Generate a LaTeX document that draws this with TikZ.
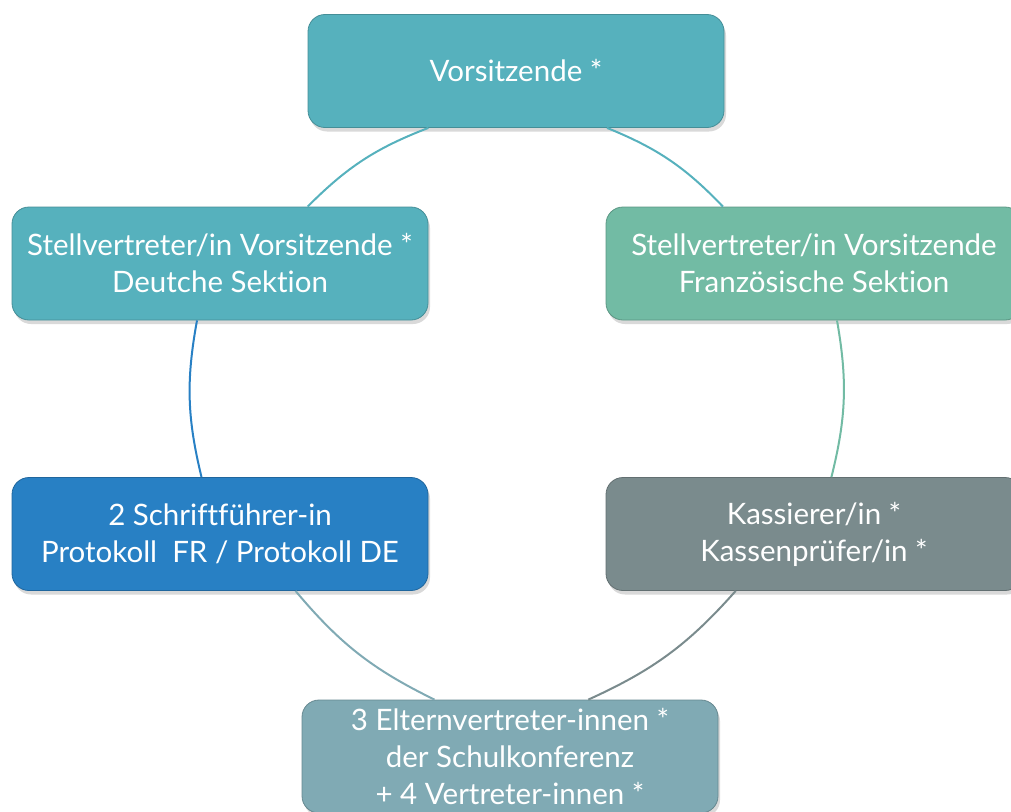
\documentclass[tikz,border=0pt]{standalone}
\usepackage{fontspec}
\setmainfont{Lato}[Ligatures={NoCommon,NoRare}]
\usetikzlibrary{shadows}

\definecolor{cteal}{HTML}{56B1BD}
\definecolor{cgreen}{HTML}{72BBA4}
\definecolor{cblue}{HTML}{2880C4}
\definecolor{cgray}{HTML}{7A8B8D}
\definecolor{cpale}{HTML}{80AAB4}

\tikzset{
  rolebox/.style={rectangle, rounded corners=17pt, minimum width=416pt,
    minimum height=113pt, align=center, text=white, fill=#1, draw=#1!80!black,
    line width=0.8pt, font=\fontsize{29.5}{37}\selectfont,
    drop shadow={opacity=0.3, shadow xshift=2pt, shadow yshift=-4pt}},
  link/.style={draw=#1, line width=2pt, bend left=12}
}

\begin{document}
\begin{tikzpicture}
  [x=1pt,y=-1pt]
  \useasboundingbox (0,0) rectangle (1011,811);
  \node[rolebox=cteal]  (vors) at (516,71)    {Vorsitzende *};
  \node[rolebox=cteal]  (stde) at (220,263.5) {Stellvertreter/in Vorsitzende *\\Deutche Sektion};
  \node[rolebox=cgreen] (stfr) at (814,263.5) {Stellvertreter/in Vorsitzende\\Französische Sektion};
  \node[rolebox=cblue]  (schr) at (220,534)   {2 Schriftführer-in\\Protokoll\ \ FR / Protokoll DE};
  \node[rolebox=cgray]  (kass) at (814,534)   {Kassierer/in *\\Kassenprüfer/in *};
  \node[rolebox=cpale]  (elt)  at (510,756.5) {3 Elternvertreter-innen *\\der Schulkonferenz\\+ 4 Vertreter-innen *};
  % cycle, clockwise
  \draw[link=cteal]  (vors.-32)  to (stfr.148);
  \draw[link=cgreen] (stfr.-68)  to (kass.73);
  \draw[link=cgray]  (kass.216)  to (elt.36);
  \draw[link=cpale]  (elt.143)   to (schr.-37);
  \draw[link=cblue]  (schr.108)  to (stde.-112);
  \draw[link=cteal]  (stde.33)   to (vors.213);
\end{tikzpicture}
\end{document}
